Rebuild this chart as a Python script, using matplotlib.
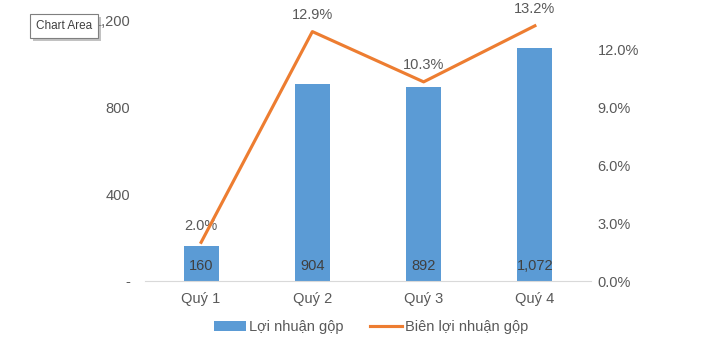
import matplotlib
matplotlib.use("Agg")
import matplotlib.pyplot as plt
import matplotlib.patheffects as pe
from matplotlib.ticker import FuncFormatter

categories = ["Quý 1", "Quý 2", "Quý 3", "Quý 4"]
gross_profit = [160, 904, 892, 1072]
gross_margin = [2.0, 12.9, 10.3, 13.2]
left_ticks = [0, 400, 800, 1200]
right_ticks = [0, 3, 6, 9, 12]

plt.rcParams['font.family'] = ['Liberation Sans', 'DejaVu Sans']
txt = '#595959'
bar_c = '#5B9BD5'
line_c = '#ED7D31'

fig = plt.figure(figsize=(7.26, 3.54), dpi=100)
ax = fig.add_axes([0.2004, 0.2062, 0.6130, 0.7373])
x = list(range(len(categories)))
bars = ax.bar(x, gross_profit, width=0.315, color=bar_c, zorder=2, label="Lợi nhuận gộp")
ax.set_xlim(-0.5, 3.5)
ax.set_ylim(0, 1200)
ax.set_yticks(left_ticks)
ax.yaxis.set_major_formatter(FuncFormatter(lambda v, p: "-" if v == 0 else f"{v:,.0f}"))
for s in ['top', 'right', 'left']:
    ax.spines[s].set_visible(False)
ax.spines['bottom'].set_color('#D9D9D9')
ax.set_xticks(x)
ax.set_xticklabels(categories)
ax.tick_params(axis='both', length=0, labelsize=10.5, colors=txt)
ax.tick_params(axis='y', pad=11)
ax.tick_params(axis='x', pad=8)
for xi, v in zip(x, gross_profit):
    ax.text(xi, 68, f"{v:,}", ha='center', va='center', fontsize=10.5, color='#404040', zorder=3)

ax2 = ax.twinx()
ax2.set_ylim(0, 13.5)
line, = ax2.plot(x, gross_margin, color=line_c, lw=2.25, zorder=4, label="Biên lợi nhuận gộp")
ax2.set_yticks(right_ticks)
ax2.yaxis.set_major_formatter(FuncFormatter(lambda v, p: f"{v:.1f}%"))
for s in ['top', 'right', 'left', 'bottom']:
    ax2.spines[s].set_visible(False)
ax2.tick_params(axis='y', length=0, labelsize=10.5, colors=txt, pad=5)
for xi, v in zip(x, gross_margin):
    ax2.annotate(f"{v:.1f}%", (xi, v), xytext=(0, 7), textcoords='offset points',
                 ha='center', va='bottom', fontsize=10.5, color=txt)

fig.legend([bars, line], ["Lợi nhuận gộp", "Biên lợi nhuận gộp"], loc='center',
           bbox_to_anchor=(0.511, 0.075), ncol=2, frameon=False, fontsize=10.5,
           labelcolor=txt, handlelength=2.2, columnspacing=1.85, handletextpad=0.2)

# tooltip overlay as seen in the reference screenshot
tip = fig.text(0.0496, 0.9266, "Chart Area", fontsize=8.5, color='#404040', ha='left', va='center',
               bbox=dict(boxstyle='square,pad=0.5', fc='white', ec='#7F7F7F', lw=0.8),
               zorder=10)
tip.get_bbox_patch().set_path_effects([
    pe.SimplePatchShadow(offset=(2, -2), shadow_rgbFace='#9A9A9A', alpha=0.6),
    pe.Normal()])

fig.savefig("out.png", dpi=100)
